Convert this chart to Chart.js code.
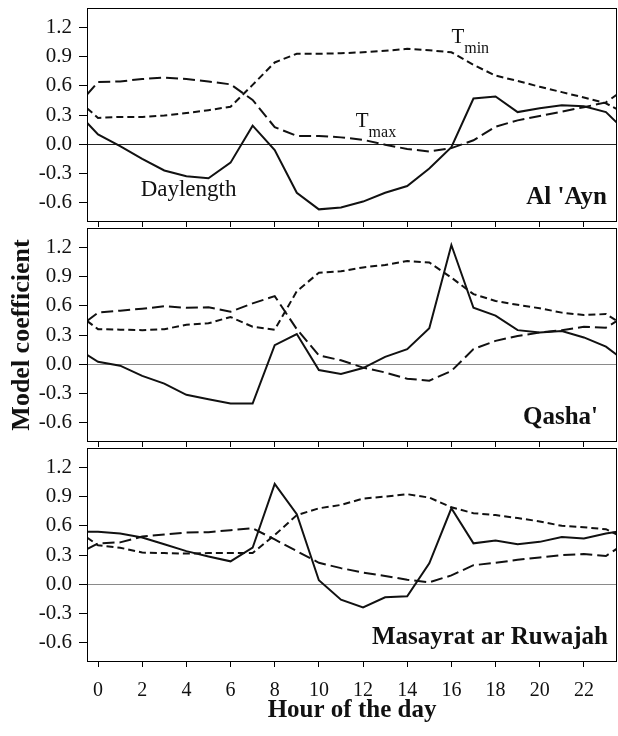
<!DOCTYPE html>
<html>
<head>
<meta charset="utf-8">
<script src="https://cdn.jsdelivr.net/npm/chart.js@4.4.1/dist/chart.umd.min.js"></script>
<style>
  body { margin: 0; background: #fff; }
  canvas { position: absolute; left: 0; }
</style>
</head>
<body>
<canvas id="c1" width="618" height="220" style="top:7px"></canvas>
<canvas id="c2" width="618" height="220" style="top:227px"></canvas>
<canvas id="c3" width="618" height="289" style="top:447px"></canvas>
<script>
// hour of the day (edges at -0.5 / 23.5 close the curves to the frame)
const hours = [-0.5, 0, 1, 2, 3, 4, 5, 6, 7, 8, 9, 10, 11, 12, 13, 14, 15, 16, 17, 18, 19, 20, 21, 22, 23, 23.5];
const xTicks = [0, 2, 4, 6, 8, 10, 12, 14, 16, 18, 20, 22];
const yTicks = [-0.6, -0.3, 0, 0.3, 0.6, 0.9, 1.2];

// Al 'Ayn
const aynDay  = [0.22, 0.10, -0.02, -0.15, -0.27, -0.33, -0.35, -0.19, 0.19, -0.06, -0.50, -0.67, -0.65, -0.59, -0.50, -0.43, -0.25, -0.03, 0.47, 0.49, 0.33, 0.37, 0.40, 0.39, 0.33, 0.22];
const aynTmax = [0.51, 0.64, 0.645, 0.67, 0.685, 0.67, 0.645, 0.615, 0.455, 0.175, 0.085, 0.085, 0.07, 0.045, -0.005, -0.05, -0.075, -0.04, 0.04, 0.18, 0.245, 0.29, 0.335, 0.38, 0.43, 0.51];
const aynTmin = [0.37, 0.27, 0.28, 0.28, 0.295, 0.32, 0.35, 0.385, 0.61, 0.84, 0.93, 0.93, 0.935, 0.945, 0.96, 0.98, 0.965, 0.945, 0.815, 0.705, 0.65, 0.59, 0.535, 0.48, 0.42, 0.36];

// Qasha'
const qasDay  = [0.095, 0.025, -0.015, -0.12, -0.20, -0.315, -0.36, -0.405, -0.405, 0.195, 0.31, -0.06, -0.10, -0.04, 0.075, 0.155, 0.37, 1.225, 0.58, 0.50, 0.35, 0.325, 0.34, 0.275, 0.18, 0.095];
const qasTmax = [0.445, 0.53, 0.55, 0.57, 0.595, 0.58, 0.585, 0.54, 0.625, 0.70, 0.36, 0.09, 0.04, -0.035, -0.085, -0.15, -0.17, -0.07, 0.155, 0.24, 0.29, 0.325, 0.35, 0.385, 0.375, 0.445];
const qasTmin = [0.445, 0.36, 0.355, 0.35, 0.36, 0.405, 0.42, 0.485, 0.385, 0.355, 0.75, 0.94, 0.955, 0.995, 1.02, 1.06, 1.045, 0.89, 0.72, 0.65, 0.61, 0.575, 0.53, 0.505, 0.515, 0.445];

// Masayrat ar Ruwajah
const masDay  = [0.54, 0.54, 0.52, 0.48, 0.41, 0.34, 0.285, 0.235, 0.375, 1.03, 0.72, 0.04, -0.16, -0.24, -0.135, -0.125, 0.215, 0.78, 0.42, 0.45, 0.41, 0.435, 0.485, 0.47, 0.52, 0.54];
const masTmax = [0.36, 0.42, 0.43, 0.49, 0.51, 0.53, 0.535, 0.555, 0.575, 0.46, 0.34, 0.22, 0.165, 0.12, 0.085, 0.045, 0.02, 0.09, 0.195, 0.22, 0.25, 0.275, 0.30, 0.31, 0.29, 0.365];
const masTmin = [0.48, 0.40, 0.375, 0.325, 0.32, 0.315, 0.32, 0.32, 0.32, 0.505, 0.71, 0.78, 0.815, 0.88, 0.90, 0.925, 0.89, 0.79, 0.73, 0.71, 0.68, 0.645, 0.60, 0.585, 0.565, 0.51];

const SERIF = "'Liberation Serif', 'Times New Roman', serif";
Chart.defaults.font.family = SERIF;
Chart.defaults.color = '#111';

const pts = vals => hours.map((h, i) => ({ x: h, y: vals[i] }));

// frame + panel name + in-plot labels
const panelText = {
  id: 'panelText',
  afterDraw(chart, args, o) {
    const { ctx, chartArea: a } = chart;
    const x = chart.scales.x, y = chart.scales.y;
    ctx.save();
    ctx.strokeStyle = '#000';
    ctx.lineWidth = 1;
    ctx.strokeRect(a.left + 0.5, a.top + 0.5, a.right - a.left - 1, a.bottom - a.top - 1);
    ctx.fillStyle = '#111';
    ctx.textBaseline = 'alphabetic';
    ctx.textAlign = 'right';
    ctx.font = 'bold 25px ' + SERIF;
    ctx.fillText(o.name, a.right - o.inset, y.getPixelForValue(-0.6) + 1);
    ctx.textAlign = 'left';
    (o.notes || []).forEach(n => {
      const px = x.getPixelForValue(n.hour), py = y.getPixelForValue(n.value);
      ctx.font = n.size + 'px ' + SERIF;
      ctx.fillText(n.text, px, py);
      if (n.sub) {
        const w = ctx.measureText(n.text).width;
        ctx.font = '16px ' + SERIF;
        ctx.fillText(n.sub, px + w, py + 10);
      }
    });
    ctx.restore();
  }
};

function makePanel(id, day, tmax, tmin, o) {
  const canvas = document.getElementById(id);
  return new Chart(canvas, {
    type: 'line',
    data: {
      datasets: [
        { label: 'Daylength', data: pts(day), borderColor: '#111', borderWidth: 2 },
        { label: 'Tmax', data: pts(tmax), borderColor: '#111', borderWidth: 2, borderDash: [12, 5] },
        { label: 'Tmin', data: pts(tmin), borderColor: '#111', borderWidth: 2, borderDash: [7, 4] }
      ]
    },
    options: {
      responsive: false,
      animation: false,
      events: [],
      elements: { point: { radius: 0 }, line: { tension: 0 } },
      layout: { padding: { top: 1, right: 1, left: 0, bottom: 0 } },
      plugins: {
        legend: { display: false },
        tooltip: { enabled: false },
        panelText: o
      },
      scales: {
        x: {
          type: 'linear',
          min: -0.5,
          max: 23.5,
          afterBuildTicks: s => { s.ticks = xTicks.map(v => ({ value: v })); },
          afterFit: s => {
            s.height = canvas.height - 215;
            s.paddingLeft = 0;
            s.paddingRight = 0;
          },
          grid: { drawOnChartArea: false, tickLength: 5, tickColor: '#000' },
          border: { display: false },
          ticks: { display: o.xLabels, font: { size: 20 }, padding: 12, color: '#111', maxRotation: 0 },
          title: {
            display: o.xLabels,
            text: 'Hour of the day',
            font: { size: 25, weight: 'bold' },
            color: '#111',
            padding: { top: 0, bottom: 10 }
          }
        },
        y: {
          min: -0.8,
          max: 1.4,
          afterBuildTicks: s => { s.ticks = yTicks.map(v => ({ value: v })); },
          afterFit: s => {
            s.width = 87;
            s.paddingTop = 0;
            s.paddingBottom = 0;
          },
          grid: {
            color: c => (c.tick && c.tick.value === 0 ? o.zeroColor : 'rgba(0,0,0,0)'),
            lineWidth: 1,
            tickLength: 8,
            tickColor: '#000'
          },
          border: { display: false },
          ticks: {
            font: { size: 21 },
            padding: 7,
            color: '#111',
            callback: v => v.toFixed(1)
          },
          title: {
            display: o.yTitle,
            text: 'Model coefficient',
            font: { size: 26, weight: 'bold' },
            color: '#111',
            padding: { top: 7, bottom: 0 }
          }
        }
      }
    },
    plugins: [panelText]
  });
}

makePanel('c1', aynDay, aynTmax, aynTmin, {
  name: "Al 'Ayn", inset: 10, zeroColor: '#222', xLabels: false, yTitle: false,
  notes: [
    { text: 'Daylength', hour: 1.93, value: -0.53, size: 23 },
    { text: 'T', sub: 'min', hour: 16.0, value: 1.04, size: 21 },
    { text: 'T', sub: 'max', hour: 11.67, value: 0.18, size: 21 }
  ]
});
makePanel('c2', qasDay, qasTmax, qasTmin, {
  name: "Qasha'", inset: 19, zeroColor: '#8a8a8a', xLabels: false, yTitle: true
});
makePanel('c3', masDay, masTmax, masTmin, {
  name: 'Masayrat ar Ruwajah', inset: 9, zeroColor: '#8a8a8a', xLabels: true, yTitle: false
});
</script>
</body>
</html>
